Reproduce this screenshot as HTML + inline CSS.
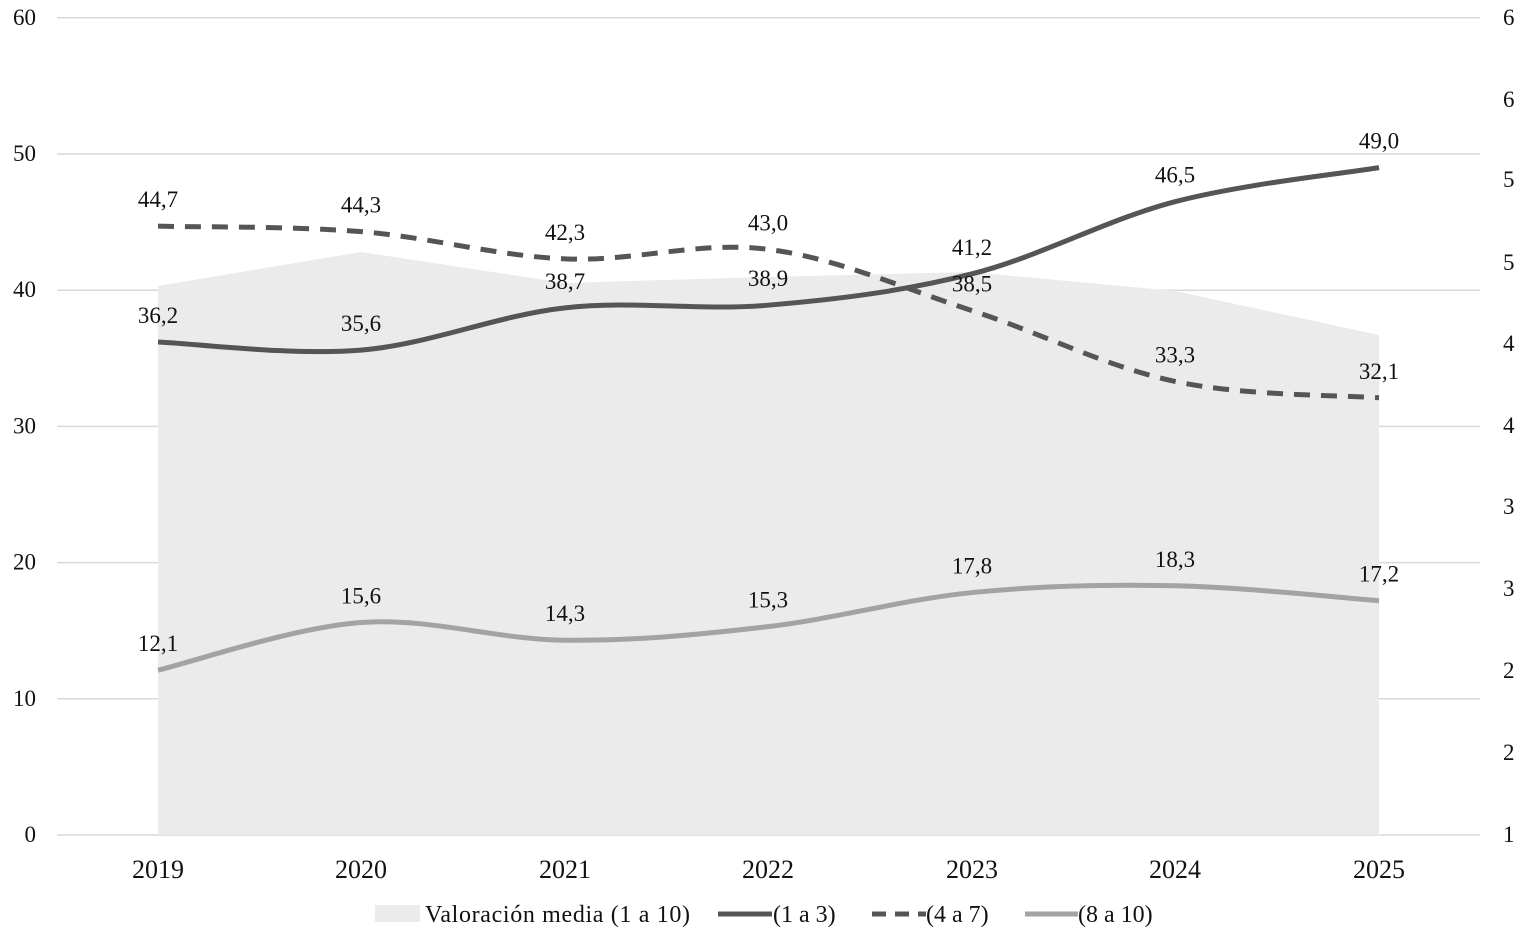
<!DOCTYPE html>
<html><head><meta charset="utf-8"><style>
html,body{margin:0;padding:0;background:#fff;}
svg{display:block;font-family:"Liberation Serif",serif;}
</style></head><body>
<svg id="c" width="1523" height="937" xmlns="http://www.w3.org/2000/svg">
<g id="grid" stroke="#d9d9d9" stroke-width="1.5"></g>
<path id="area" fill="#ebebeb"/>
<g id="lines" fill="none"></g>
<g id="txt" font-size="23" fill="#111"></g>
</svg>
<script>
const ns="http://www.w3.org/2000/svg";
const X=[158,361,565,768,972,1175,1379];
const Y=v=>835-13.62*v;
function el(t,a,p,txt){const e=document.createElementNS(ns,t);for(const k in a)e.setAttribute(k,a[k]);if(txt!=null)e.textContent=txt;document.getElementById(p).appendChild(e);return e;}
for(let i=0;i<=6;i++){const y=Y(i*10);el('line',{x1:57,x2:1480,y1:y,y2:y},'grid');
 el('text',{x:36,y:y+7,'text-anchor':'end'},'txt',String(i*10));}
const R=[[18,'6'],[100,'6'],[180,'5'],[263,'5'],[344,'4'],[426,'4'],[507,'3'],[589,'3'],[671,'2'],[753,'2'],[835,'1']];
R.forEach(r=>el('text',{x:1503,y:r[0]+7},'txt',r[1]));
const A=[286,252,283,277,272,291,335];
let d='M'+X[0]+',835';X.forEach((x,i)=>d+=' L'+x+','+A[i]);d+=' L'+X[6]+',835Z';
document.getElementById('area').setAttribute('d',d);
function smooth(pts){let s='M'+pts[0][0]+','+pts[0][1];
 for(let i=0;i<pts.length-1;i++){const p0=pts[i-1]||pts[i],p1=pts[i],p2=pts[i+1],p3=pts[i+2]||p2;
 const t=0.17;s+=` C${p1[0]+(p2[0]-p0[0])*t},${p1[1]+(p2[1]-p0[1])*t} ${p2[0]-(p3[0]-p1[0])*t},${p2[1]-(p3[1]-p1[1])*t} ${p2[0]},${p2[1]}`;}return s;}
const S=[[36.2,35.6,38.7,38.9,41.2,46.5,49.0],'#555',null],
D=[[44.7,44.3,42.3,43.0,38.5,33.3,32.1],'#555','16 11'],
L=[[12.1,15.6,14.3,15.3,17.8,18.3,17.2],'#a3a3a3',null];
[L,D,S].forEach(s=>{const pts=s[0].map((v,i)=>[X[i],Y(v)]);
 const a={d:smooth(pts),stroke:s[1],'stroke-width':5};if(s[2])a['stroke-dasharray']=s[2];el('path',a,'lines');
 s[0].forEach((v,i)=>el('text',{x:X[i],y:Y(v)-19,'text-anchor':'middle'},'txt',v.toFixed(1).replace('.',',')));});
X.forEach((x,i)=>el('text',{x:x,y:878,'text-anchor':'middle','font-size':26},'txt',String(2019+i)));
el('rect',{x:375,y:905,width:45,height:17,fill:'#ebebeb'},'lines');
el('text',{x:425,y:922,'font-size':24,textLength:265},'txt','Valoración media (1 a 10)');
el('line',{x1:718,x2:772,y1:914,y2:914,stroke:'#555','stroke-width':5},'lines');
el('text',{x:773,y:922,'font-size':24},'txt','(1 a 3)');
el('line',{x1:872,x2:926,y1:914,y2:914,stroke:'#555','stroke-width':5,'stroke-dasharray':'14 9'},'lines');
el('text',{x:926,y:922,'font-size':24},'txt','(4 a 7)');
el('line',{x1:1025,x2:1078,y1:914,y2:914,stroke:'#a3a3a3','stroke-width':5},'lines');
el('text',{x:1078,y:922,'font-size':24},'txt','(8 a 10)');
</script>
</body></html>
